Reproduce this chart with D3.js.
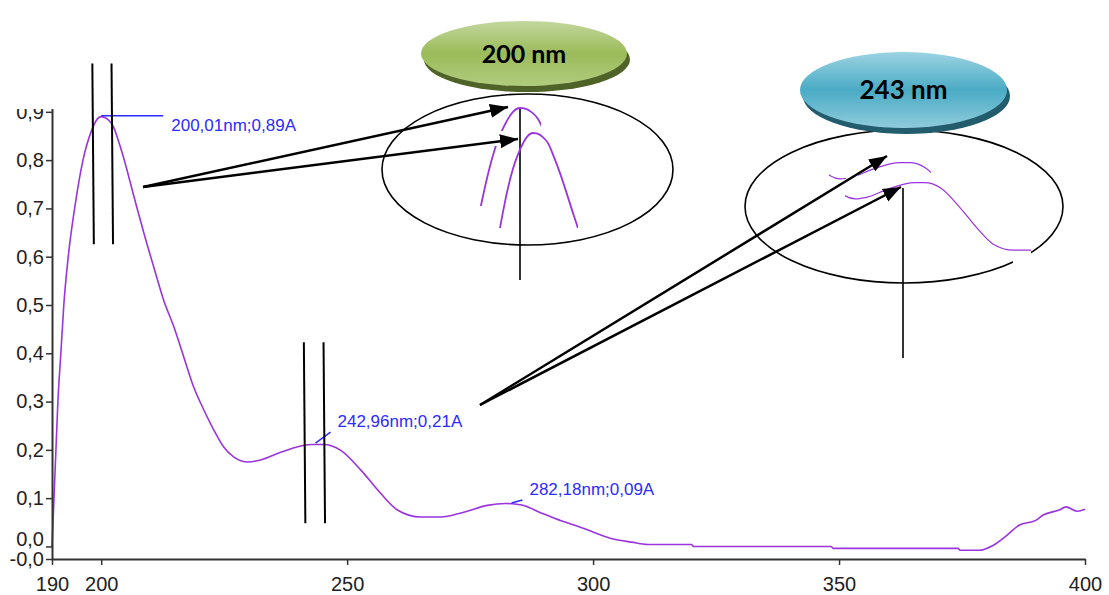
<!DOCTYPE html>
<html lang="en">
<head>
<meta charset="UTF-8">
<title>UV spectrum</title>
<script src="https://cdn.jsdelivr.net/npm/d3@7"></script>
<style>
  body { margin: 0; background: #fff; }
  svg { display: block; }
</style>
</head>
<body>
<svg id="canvas"></svg>
<script>

// spectrum (nm / A)
let wavelength = [190, 190.4, 190.8, 191.2, 191.8, 192.4, 193.3, 194.6, 196.3, 198.0, 199.0, 200.0,
    200.6, 201.6, 202.5, 203.5, 204.5, 206.7, 208.7, 210.7, 212.7, 214.8, 216.8, 218.8, 220.9,
    222.9, 224.9, 227.0, 229.8, 232.4, 236.5, 240.6, 243.0, 245.2, 248.7, 252.8, 256.8, 260.3,
    264.9, 269.0, 273.7, 278.5, 282.2, 285.5, 289.3, 293.5, 297.4, 300.2, 304.3, 307.8, 311.1,
    320.0, 320.4, 348.4, 348.8, 374.2, 374.6, 378.5, 381.1, 384.0, 386.6, 390.0, 391.5, 394.9,
    396.1, 398.4, 400]
let absorbance = [0.0, 0.10, 0.20, 0.30, 0.40, 0.50, 0.60, 0.70, 0.80, 0.86, 0.882, 0.89,
    0.889, 0.882, 0.869, 0.84, 0.807, 0.723, 0.648, 0.578, 0.51, 0.454, 0.392, 0.33, 0.282,
    0.241, 0.206, 0.185, 0.175, 0.179, 0.195, 0.208, 0.211, 0.211, 0.199, 0.158, 0.110, 0.075,
    0.061, 0.061, 0.071, 0.085, 0.089, 0.086, 0.070, 0.053, 0.040, 0.029, 0.015, 0.009, 0.004,
    0.004, 0.0, 0.0, -0.004, -0.004, -0.008, -0.008, 0.001, 0.022, 0.044, 0.054, 0.065, 0.076,
    0.082, 0.073, 0.077]

let xTicks = [190, 200, 250, 300, 350, 400]
let yTicks = [-0.026, 0, 0.1, 0.2, 0.3, 0.4, 0.5, 0.6, 0.7, 0.8, 0.9]

// peaks picked by the instrument
let peakNm = [200.01, 242.96, 282.18]
let peakAbs = [0.89, 0.21, 0.09]

// the two callouts
let bubbleLabels = ['200 nm', '243 nm']

let width = 1109
let height = 595
let purple = '#9a34dc'
let blue = '#2b2bff'

let canvas = d3.select('#canvas')
canvas.attr('width', width)
canvas.attr('height', height)

let xScale = d3.scaleLinear().domain([190, 400]).range([52, 1085])
let yScale = d3.scaleLinear().domain([-0.026, 0.91]).range([559, 107])

let points = wavelength.map((w, i) => [w, absorbance[i]])

let makeLine = (xs, ys) => d3.line()
    .x(d => xs(d[0]))
    .y(d => ys(d[1]))
    .curve(d3.curveMonotoneX)

let defs = canvas.append('defs')

let addClip = (id, x, y, w, h) => {
    defs.append('clipPath').attr('id', id)
        .append('rect').attr('x', x).attr('y', y).attr('width', w).attr('height', h)
}
addClip('clipY', 0, 109, 120, 470)
addClip('clipA1', 495, 104, 46, 27)
addClip('clipA2', 480, 146, 17, 60)
addClip('clipB', 495, 130, 83, 98)
addClip('clipC1', 858, 155, 73, 25)
addClip('clipC2', 829, 170, 17, 12)
addClip('clipD', 845, 175, 186, 80)

defs.append('marker')
    .attr('id', 'arrow')
    .attr('markerUnits', 'userSpaceOnUse')
    .attr('markerWidth', 19).attr('markerHeight', 15)
    .attr('refX', 18).attr('refY', 7)
    .attr('orient', 'auto')
    .append('path').attr('d', 'M0,0 L18,7 L0,14 Z').attr('fill', '#000')

let gradient = (id, c1, c2, c3) => {
    let g = defs.append('linearGradient').attr('id', id)
        .attr('x1', 0).attr('y1', 0).attr('x2', 0).attr('y2', 1)
    g.append('stop').attr('offset', '0%').attr('stop-color', c1)
    g.append('stop').attr('offset', '50%').attr('stop-color', c2)
    g.append('stop').attr('offset', '100%').attr('stop-color', c3)
}
gradient('green', '#c2d79c', '#9bbb59', '#b0cb7e')
gradient('teal', '#9dd3e2', '#4aabc5', '#8fcbdc')

// ---------- main spectrum ----------
canvas.append('path')
    .datum(points)
    .attr('d', makeLine(xScale, yScale))
    .attr('fill', 'none')
    .attr('stroke', purple)
    .attr('stroke-width', 1.6)

// ---------- axes ----------
let fmt = v => v < 0 ? '-0,0' : d3.format('.1f')(v).replace('.', ',')

let xAxis = d3.axisBottom(xScale)
    .tickValues(xTicks)
    .tickSize(6).tickSizeOuter(0).tickPadding(12)
    .tickFormat(d3.format('d'))
let yAxis = d3.axisLeft(yScale)
    .tickValues(yTicks)
    .tickSize(6).tickSizeOuter(0).tickPadding(2)
    .tickFormat(fmt)

let gx = canvas.append('g')
    .attr('transform', 'translate(0,' + yScale.range()[0] + ')')
    .call(xAxis)
let gy = canvas.append('g')
    .attr('clip-path', 'url(#clipY)')
    .append('g')
    .attr('transform', 'translate(' + xScale.range()[0] + ',0)')
    .call(yAxis)

;[gx, gy].forEach(g => {
    g.selectAll('text')
        .attr('font-family', 'Liberation Sans, Arial, sans-serif')
        .attr('font-size', 20)
        .attr('fill', '#222')
    g.select('.domain').attr('stroke', '#333').attr('stroke-width', 2)
    g.selectAll('.tick line').attr('stroke', '#333').attr('stroke-width', 1.5)
})
// the 0,0 label sits a little higher than its tick, as in the instrument print
gy.selectAll('.tick text').filter(d => d === 0).attr('dy', '-0.05em')

// ---------- peak labels ----------
let peakText = (nm, a) => d3.format('.2f')(nm).replace('.', ',') + 'nm;' + d3.format('.2f')(a).replace('.', ',') + 'A'
let leader = [[0, -1, 62, -1], [3, -2, 18, -13], [6, 0, 17, -3]]
let textOff = [[70, 14], [25, -18], [24, -8]]

peakNm.forEach((nm, i) => {
    let px = xScale(nm)
    let py = yScale(peakAbs[i])
    canvas.append('line')
        .attr('x1', px + leader[i][0]).attr('y1', py + leader[i][1])
        .attr('x2', px + leader[i][2]).attr('y2', py + leader[i][3])
        .attr('stroke', blue).attr('stroke-width', 1.5)
    canvas.append('text')
        .attr('x', px + textOff[i][0]).attr('y', py + textOff[i][1])
        .attr('font-family', 'Liberation Sans, Arial, sans-serif')
        .attr('font-size', 17)
        .attr('fill', blue)
        .text(peakText(nm, peakAbs[i]))
})

// ---------- guide lines around the two peaks ----------
let guides = [[198.2, 0.626, 1.0], [202.1, 0.626, 1.0], [241.2, 0.048, 0.423], [245.2, 0.048, 0.423]]
guides.forEach(g => {
    canvas.append('line')
        .attr('x1', xScale(g[0])).attr('y1', yScale(g[2]))
        .attr('x2', xScale(g[0]) + 1.5).attr('y2', yScale(g[1]))
        .attr('stroke', '#000').attr('stroke-width', 2)
})

// ---------- magnified views ----------
let ellipse = (cx, cy, rx, ry) => canvas.append('ellipse')
    .attr('cx', cx).attr('cy', cy).attr('rx', rx).attr('ry', ry)
    .attr('fill', 'none').attr('stroke', '#000').attr('stroke-width', 1.6)

ellipse(527.5, 169.5, 145.5, 75.5)
ellipse(904, 206.5, 159, 76.5)
canvas.append('rect').attr('x', 1013).attr('y', 252).attr('width', 18).attr('height', 18).attr('fill', '#fff')

canvas.append('line').attr('x1', 520).attr('y1', 108).attr('x2', 520).attr('y2', 280)
    .attr('stroke', '#000').attr('stroke-width', 1.6)
canvas.append('line').attr('x1', 903).attr('y1', 188).attr('x2', 903).attr('y2', 358)
    .attr('stroke', '#000').attr('stroke-width', 1.6)

let insets = [
    { clip: ['clipA1', 'clipA2'], x: [[200, 210], [520, 590]], y: [[0.89, 0.69], [108, 204.6]], w: 1.8 },
    { clip: ['clipB'], x: [[200, 210], [533, 593]], y: [[0.89, 0.69], [133, 229.6]], w: 1.8 },
    { clip: ['clipC1', 'clipC2'], x: [[243, 253], [900, 945]], y: [[0.211, 0.061], [162.7, 230.2]], w: 1.2 },
    { clip: ['clipD'], x: [[243, 253], [915, 960]], y: [[0.211, 0.061], [182.7, 250.2]], w: 1.2 }
]
insets.forEach(ins => {
    let xs = d3.scaleLinear().domain(ins.x[0]).range(ins.x[1])
    let ys = d3.scaleLinear().domain(ins.y[0]).range(ins.y[1])
    ins.clip.forEach(c => {
        canvas.append('path')
            .datum(points)
            .attr('clip-path', 'url(#' + c + ')')
            .attr('d', makeLine(xs, ys))
            .attr('fill', 'none')
            .attr('stroke', purple)
            .attr('stroke-width', ins.w)
    })
})

// ---------- arrows ----------
let arrows = [[143, 187, 508, 107], [143, 187, 518, 139], [480, 405, 887, 156], [480, 405, 901, 187]]
arrows.forEach(a => {
    canvas.append('line')
        .attr('x1', a[0]).attr('y1', a[1]).attr('x2', a[2]).attr('y2', a[3])
        .attr('stroke', '#000').attr('stroke-width', 2.5)
        .attr('marker-end', 'url(#arrow)')
})

// ---------- callout bubbles ----------
let bubbles = [
    { cx: 524, cy: 53.5, rx: 103, ry: 32.5, fill: 'url(#green)', shadow: '#4f6228', size: 25 },
    { cx: 903.5, cy: 90, rx: 103.5, ry: 38, fill: 'url(#teal)', shadow: '#235d6d', size: 26 }
]
bubbles.forEach((b, i) => {
    canvas.append('ellipse')
        .attr('cx', b.cx + 3).attr('cy', b.cy + 6).attr('rx', b.rx).attr('ry', b.ry)
        .attr('fill', b.shadow)
    canvas.append('ellipse')
        .attr('cx', b.cx).attr('cy', b.cy).attr('rx', b.rx).attr('ry', b.ry)
        .attr('fill', b.fill)
    canvas.append('text')
        .attr('x', b.cx).attr('y', b.cy + b.size * 0.36)
        .attr('text-anchor', 'middle')
        .attr('font-family', 'Lato, Open Sans, sans-serif')
        .attr('font-weight', 'bold')
        .attr('font-size', b.size)
        .attr('fill', '#000')
        .text(bubbleLabels[i])
})

</script>
</body>
</html>
